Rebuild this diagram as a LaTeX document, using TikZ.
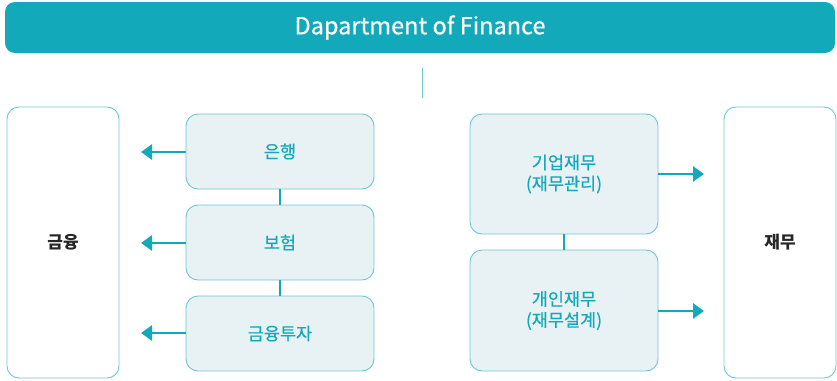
\documentclass[tikz,border=0pt]{standalone}
\usepackage{fontspec}
\setmainfont{Noto Sans CJK KR}
\newfontfamily\medfont{Noto Sans CJK KR}[FakeBold=0.5]
\usetikzlibrary{arrows.meta}
\definecolor{teal1}{HTML}{12A9BA}
\definecolor{tealline}{HTML}{6CC8D3}
\definecolor{boxfill}{HTML}{E8F1F4}
\tikzset{
  x=1pt,y=-1pt,
  bigbox/.style={draw=tealline,line width=0.9pt,rounded corners=12pt,fill=white,font=\fontsize{17}{20}\selectfont\bfseries,text=black!85},
  itembox/.style={draw=tealline,line width=0.9pt,rounded corners=12pt,fill=boxfill,font=\fontsize{17.5}{21}\medfont,text=teal1,align=center},
  link/.style={draw=teal1,line width=2.2pt},
  arr/.style={draw=teal1,line width=2.8pt,-{Triangle[length=11pt,width=15pt]}},
}
\begin{document}
\begin{tikzpicture}
\useasboundingbox (0,0) rectangle (837,380);
\node[draw=none,fill=teal1,rounded corners=10pt,minimum width=830pt,minimum height=51pt,text=white,font=\fontsize{23.5}{26}\medfont] (dept) at (420,27.5) {Dapartment of Finance};
\coordinate (vt) at (422,68);
\coordinate (vb) at (422,98);
\draw[draw=tealline,line width=1pt] (vt) -- (vb);
% big boxes
\node[bigbox,minimum width=112pt,minimum height=271pt] (fin) at (63,242.5) {금융};
\node[bigbox,minimum width=112pt,minimum height=271pt] (fm) at (780,242.5) {재무};
% left items
\node[itembox,minimum width=188pt,minimum height=75pt] (b1) at (280,151.5) {은행};
\node[itembox,minimum width=188pt,minimum height=75pt] (b2) at (280,242.5) {보험};
\node[itembox,minimum width=188pt,minimum height=75pt] (b3) at (280,333.5) {금융투자};
\draw[link] (b1) -- (b2);
\draw[link] (b2) -- (b3);
\coordinate (a1) at (141,152);
\coordinate (a2) at (141,243);
\coordinate (a3) at (141,333);
\draw[arr] (b1.west |- a1) -- (a1);
\draw[arr] (b2.west |- a2) -- (a2);
\draw[arr] (b3.west |- a3) -- (a3);
% right items
\node[itembox,minimum width=188pt,minimum height=120pt] (c1) at (564,174) {기업재무\\(재무관리)};
\node[itembox,minimum width=188pt,minimum height=121pt] (c2) at (564,310.5) {개인재무\\(재무설계)};
\draw[link] (c1) -- (c2);
\coordinate (d1) at (704,174);
\coordinate (d2) at (704,311);
\draw[arr] (c1.east |- d1) -- (d1);
\draw[arr] (c2.east |- d2) -- (d2);
\end{tikzpicture}
\end{document}
